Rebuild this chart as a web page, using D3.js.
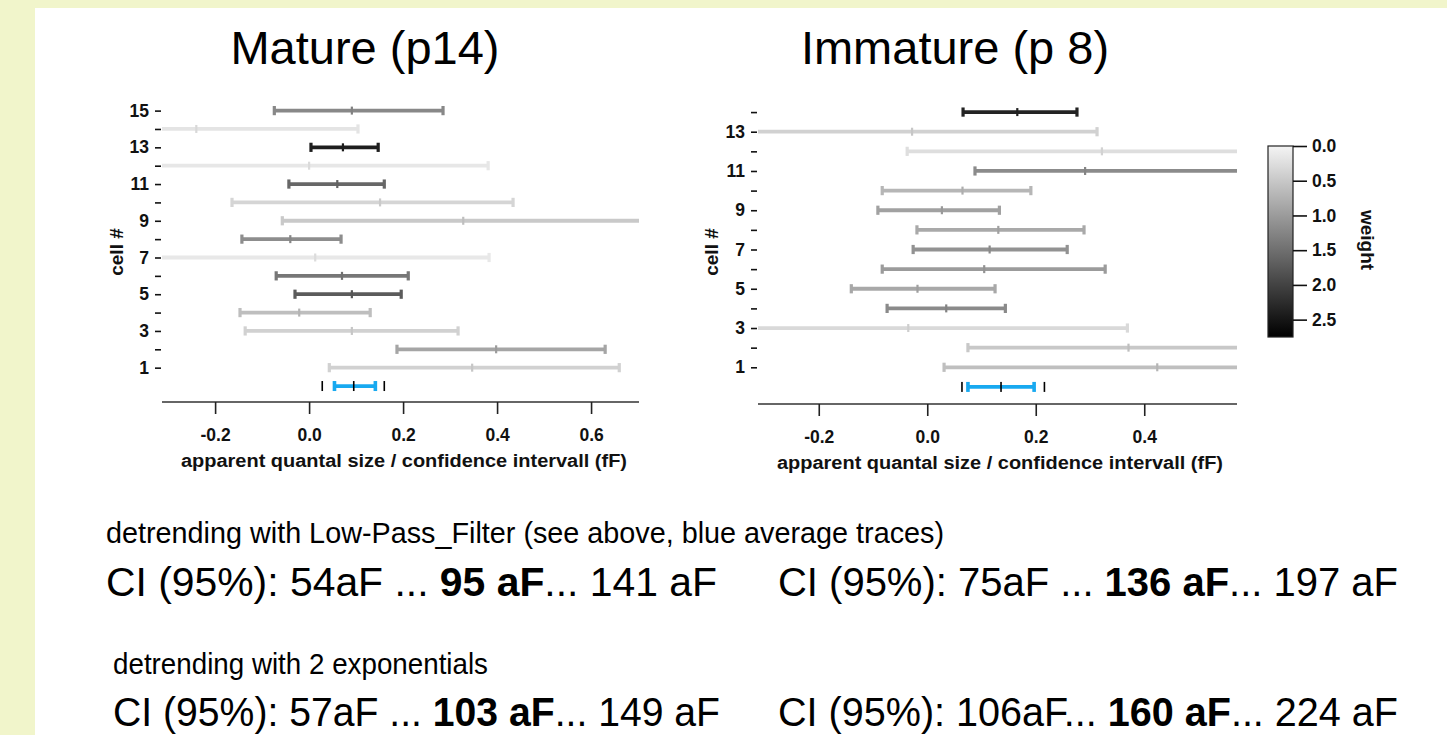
<!DOCTYPE html>
<html><head><meta charset="utf-8">
<script src="https://cdn.jsdelivr.net/npm/d3@7"></script>
<style>
html,body{margin:0;padding:0;background:#fff;}
svg{display:block;}
text{font-family:"Liberation Sans",Arial,Helvetica,sans-serif;}
</style></head>
<body>
<svg id="chart" width="1447" height="735"></svg>
<script>
// ---------- data ----------
const matureCells  = [1,2,3,4,5,6,7,8,9,10,11,12,13,14,15];
const matureLow    = [0.043, 0.187,-0.136,-0.147,-0.030,-0.070,-0.36,-0.143,-0.057,-0.164,-0.043,-0.38, 0.004,-0.58,-0.074];
const matureMid    = [0.347, 0.398, 0.091,-0.021, 0.091, 0.070, 0.013,-0.040, 0.328, 0.151, 0.060, 0.000, 0.072,-0.240, 0.091];
const matureHigh   = [0.660, 0.630, 0.317, 0.130, 0.196, 0.211, 0.383, 0.068, 0.71, 0.434, 0.160, 0.381, 0.147, 0.104, 0.285];
const matureWeight = [0.40, 0.89, 0.39, 0.61, 1.73, 1.41, 0.14, 1.16, 0.48, 0.35, 1.59, 0.15, 2.41, 0.18, 1.22];
const matureAvg    = [0.054, 0.095, 0.141];   // low, mid, high (fF)
const matureAlt    = [0.028, 0.160];          // black outer marks

const immCells  = [1,2,3,4,5,6,7,8,9,10,11,12,13,14];
const immLow    = [0.031, 0.075,-0.44,-0.074,-0.140,-0.083,-0.026,-0.019,-0.091,-0.083, 0.088,-0.037,-0.37, 0.066];
const immMid    = [0.424, 0.371,-0.035, 0.035,-0.018, 0.105, 0.115, 0.131, 0.027, 0.065, 0.291, 0.322,-0.028, 0.166];
const immHigh   = [0.817, 0.667, 0.369, 0.144, 0.125, 0.328, 0.258, 0.289, 0.133, 0.191, 0.60, 0.68, 0.313, 0.276];
const immWeight = [0.60, 0.50, 0.30, 1.20, 0.86, 1.00, 1.11, 0.84, 0.93, 0.70, 1.18, 0.25, 0.39, 2.36];
const immAvg    = [0.075, 0.136, 0.197];
const immAlt    = [0.064, 0.216];

const xTicksMature = [-0.2, 0.0, 0.2, 0.4, 0.6];
const xTicksImm    = [-0.2, 0.0, 0.2, 0.4];
const weightTicks  = [0.0, 0.5, 1.0, 1.5, 2.0, 2.5];

const titles = ["Mature (p14)", "Immature (p 8)"];
const xTitle = "apparent quantal size / confidence intervall (fF)";
const yTitle = "cell #";

// ---------- drawing ----------
const svg = d3.select("#chart");
const BG = "#f1f5cb";
const FONT = "'Liberation Sans',Arial,Helvetica,sans-serif";
const TICKFS = 17.5;
svg.append("rect").attr("width",1447).attr("height",735).attr("fill",BG);
svg.append("rect").attr("x",35).attr("y",8).attr("width",1412).attr("height",727).attr("fill","#fff");

const color = d3.scaleLinear().domain([0, 2.75]).range(["#f4f4f4", "#000000"]);

function panel(opt){
  const g = svg.append("g");
  const x = d3.scaleLinear().domain(opt.xDomain).range(opt.xRange);
  const y = d3.scaleLinear().domain(opt.yDomain).range(opt.yRange);
  const [x0,x1] = opt.xRange;
  const axisY = opt.yRange[0];

  // title
  g.append("text").attr("x",opt.titleX).attr("y",64).attr("text-anchor","middle")
    .attr("font-size",47).attr("fill","#000").text(opt.title);

  // x axis
  const xa = d3.axisBottom(x).tickValues(opt.xTicks).tickSize(12).tickPadding(15)
    .tickFormat(d3.format(".1f"));
  const xg = g.append("g").attr("transform",`translate(0,${axisY})`).call(xa);
  xg.select(".domain").attr("d",`M${x0},0H${x1}`).attr("stroke","#333").attr("stroke-width",1.6);
  xg.selectAll(".tick line").attr("stroke","#222").attr("stroke-width",1.6);
  xg.selectAll(".tick text").attr("font-size",TICKFS).attr("font-weight","bold").attr("fill","#111")
    .attr("font-family",FONT)
    .text(d => d3.format(".1f")(d).replace("−","-"));
  g.append("text").attr("x",opt.xTitleX).attr("y",axisY+65).attr("text-anchor","middle")
    .attr("font-size",18).attr("font-weight","bold").attr("fill","#111")
    .attr("textLength",446).attr("lengthAdjust","spacingAndGlyphs").text(xTitle);

  // y axis (ticks only)
  const ya = d3.axisLeft(y).tickValues(opt.cells).tickSize(6).tickPadding(6)
    .tickFormat(d => d % 2 === 1 ? d : "");
  const yg = g.append("g").attr("transform",`translate(${x0-1},0)`).call(ya);
  yg.select(".domain").remove();
  yg.selectAll(".tick line").attr("stroke","#111").attr("stroke-width",1.6);
  yg.selectAll(".tick text").attr("font-size",TICKFS).attr("font-weight","bold").attr("fill","#111")
    .attr("font-family",FONT);
  g.append("text").attr("transform",`translate(${opt.yTitleX},${opt.yTitleY}) rotate(-90)`)
    .attr("text-anchor","middle").attr("font-size",19).attr("font-weight","bold").attr("fill","#111").text(yTitle);

  // error bars
  const dmin = opt.xDomain[0], dmax = opt.xDomain[1];
  const clamp = v => Math.max(dmin, Math.min(dmax, v));
  const rows = opt.cells.map((c,i)=>({c, lo:opt.low[i], mid:opt.mid[i], hi:opt.high[i], w:opt.weight[i]}));
  const bars = g.append("g").selectAll("g").data(rows).join("g");
  bars.append("line")
    .attr("x1",d=>x(clamp(d.lo))).attr("x2",d=>x(clamp(d.hi)))
    .attr("y1",d=>y(d.c)).attr("y2",d=>y(d.c))
    .attr("stroke",d=>color(d.w)).attr("stroke-width",3.8);
  bars.each(function(d){
    const s = d3.select(this);
    [d.lo, d.hi].forEach(v=>{
      if (v >= dmin && v <= dmax){
        s.append("rect").attr("x",x(v)-1.6).attr("y",y(d.c)-4.6).attr("width",3.2).attr("height",9.2)
          .attr("fill",color(d.w));
      }
    });
    if (d.mid >= dmin && d.mid <= dmax){
      s.append("rect").attr("x",x(d.mid)-1.1).attr("y",y(d.c)-4).attr("width",2.2).attr("height",8)
        .attr("fill",d3.color(color(d.w)).darker(0.15));
    }
  });

  // average row (blue)
  const BLUE = "#18a9f0";
  const ay = y(0);
  g.append("line").attr("x1",x(opt.avg[0])).attr("x2",x(opt.avg[2])).attr("y1",ay).attr("y2",ay)
    .attr("stroke",BLUE).attr("stroke-width",3.8);
  [opt.avg[0],opt.avg[2]].forEach(v=>{
    g.append("rect").attr("x",x(v)-1.8).attr("y",ay-5).attr("width",3.6).attr("height",10).attr("fill",BLUE);
  });
  g.append("rect").attr("x",x(opt.avg[1])-0.8).attr("y",ay-5).attr("width",1.6).attr("height",10).attr("fill","#000");
  opt.alt.forEach(v=>{
    g.append("rect").attr("x",x(v)-0.8).attr("y",ay-5).attr("width",1.6).attr("height",10).attr("fill","#000");
  });
}

panel({title:titles[0], titleX:365, cells:matureCells, low:matureLow, mid:matureMid, high:matureHigh,
  weight:matureWeight, avg:matureAvg, alt:matureAlt, xTicks:xTicksMature,
  xDomain:[-0.313,0.702], xRange:[162,639], yDomain:[-0.87,15.85], yRange:[402,95],
  yTitleX:123, yTitleY:252, xTitleX:404});

panel({title:titles[1], titleX:955, cells:immCells, low:immLow, mid:immMid, high:immHigh,
  weight:immWeight, avg:immAvg, alt:immAlt, xTicks:xTicksImm,
  xDomain:[-0.312,0.571], xRange:[758,1237], yDomain:[-0.87,14.87], yRange:[404,95],
  yTitleX:718, yTitleY:252, xTitleX:1000});

// colour bar
const cb = svg.append("g");
const cbY = d3.scaleLinear().domain([0,2.75]).range([146,337]);
const defs = svg.append("defs");
const grad = defs.append("linearGradient").attr("id","wgrad").attr("x1",0).attr("x2",0).attr("y1",0).attr("y2",1);
d3.range(0,1.0001,0.1).forEach(t=>{
  grad.append("stop").attr("offset",t).attr("stop-color",color(t*2.75));
});
cb.append("rect").attr("x",1268).attr("y",cbY(0)).attr("width",25).attr("height",cbY(2.75)-cbY(0))
  .attr("fill","url(#wgrad)").attr("stroke","#222").attr("stroke-width",1.2);
const cbAxis = d3.axisRight(cbY).tickValues(weightTicks).tickSize(14).tickPadding(5).tickFormat(d3.format(".1f"));
const cbg = cb.append("g").attr("transform","translate(1293,0)").call(cbAxis);
cbg.select(".domain").remove();
cbg.selectAll(".tick line").attr("stroke","#111").attr("stroke-width",1.6);
cbg.selectAll(".tick text").attr("font-size",TICKFS).attr("font-weight","bold").attr("fill","#111")
  .attr("font-family",FONT);
cb.append("text").attr("transform","translate(1361,240) rotate(90)").attr("text-anchor","middle")
  .attr("font-size",19).attr("font-weight","bold").attr("fill","#111").text("weight");

// ---------- text block ----------
const notes = [
  {x:106, y:543, size:30, len:838, parts:[["detrending with Low-Pass_Filter (see above, blue average traces)",false]]},
  {x:106, y:596, size:40, len:611, parts:[["CI (95%): 54aF ... ",false],["95 aF",true],["... 141 aF",false]]},
  {x:778, y:596, size:40, len:620, parts:[["CI (95%): 75aF ... ",false],["136 aF",true],["... 197 aF",false]]},
  {x:113, y:674, size:30, len:375, parts:[["detrending with 2 exponentials",false]]},
  {x:113, y:726, size:40, len:607, parts:[["CI (95%): 57aF ... ",false],["103 aF",true],["... 149 aF",false]]},
  {x:778, y:726, size:40, len:620, parts:[["CI (95%): 106aF... ",false],["160 aF",true],["... 224 aF",false]]}
];
notes.forEach(n=>{
  const t = svg.append("text").attr("x",n.x).attr("y",n.y).attr("font-size",n.size)
    .attr("font-family",FONT).attr("fill","#000").attr("xml:space","preserve")
    .attr("textLength",n.len).attr("lengthAdjust","spacingAndGlyphs");
  n.parts.forEach(p=>{
    t.append("tspan").attr("font-weight",p[1]?"bold":"normal").text(p[0]);
  });
});
</script>
</body></html>
